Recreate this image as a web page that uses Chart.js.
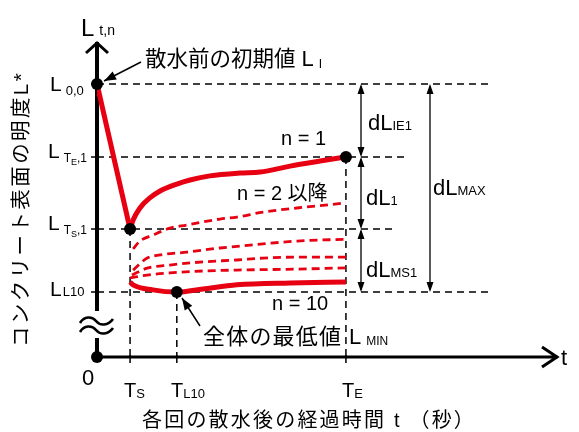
<!DOCTYPE html>
<html>
<head>
<meta charset="utf-8">
<script src="https://cdn.jsdelivr.net/npm/chart.js@4.4.1/dist/chart.umd.min.js"></script>
<style>
  html, body { margin: 0; padding: 0; background: #fff; }
  canvas { display: block; }
</style>
</head>
<body>
<canvas id="c" width="579" height="432"></canvas>
<script>
// schematic values, arbitrary units (t: time after each spraying, L: lightness)
const L00 = 86.7, LTE1 = 63.5, LTS1 = 40.6, LL10 = 20.6;
const TS = 8.7, TL10 = 21, TE = 65.5;

// n = 1 (solid)
const timeN1 = [0, 8.7, 9.5, 11.3, 13.9, 16.6, 21, 24.5, 29.7, 37.6, 42.9, 50.8, 58.7, 65.5];
const lightN1 = [86.7, 40.6, 43.5, 47.3, 50.5, 52.7, 54.9, 56.2, 57.5, 58.4, 58.7, 60.6, 62.2, 63.5];

// n = 10 (solid)
const timeN10 = [8.7, 9.5, 14.7, 21, 27.9, 36.8, 50.8, 65.5];
const lightN10 = [23.8, 22.9, 21.3, 20.6, 21.6, 22.9, 23.5, 23.8];

// n = 2 and later (dashed)
const timeA = [9.5, 11.3, 14.7, 19.2, 23.7, 27.9, 32.4, 36.8, 43.7, 52.6, 65.5];
const lightA = [34.3, 36.8, 38.7, 40.9, 41.9, 42.9, 43.8, 44.4, 46, 47.3, 48.9];
const timeB = [9.5, 13.2, 16.6, 23.7, 32.4, 43.7, 52.6, 65.5];
const lightB = [27.6, 31.4, 32.4, 33.3, 34.6, 35.9, 36.8, 37.4];
const timeC = [9.2, 13.2, 19.2, 27.9, 36.8, 43.7, 52.6, 65.5];
const lightC = [26.0, 28.2, 29.2, 30.2, 30.8, 31.4, 31.7, 31.7];
const timeD = [8.7, 13.2, 19.2, 27.9, 36.8, 52.6, 65.5];
const lightD = [25.1, 26.0, 26.7, 27.3, 27.6, 27.9, 28.3];

const RED = "#e60012";
const pts = (xs, ys) => xs.map((x, i) => ({ x, y: ys[i] }));
const font = (s) => `${s}px "Liberation Sans", "Noto Sans CJK JP", sans-serif`;

function rich(ctx, x, y, parts) {
  let cx = x;
  for (const [text, size, dy, gap] of parts) {
    cx += gap || 0;
    ctx.font = font(size);
    ctx.fillText(text, cx, y + (dy || 0));
    cx += ctx.measureText(text).width;
  }
}

function head(ctx, x1, y1, x2, y2, len, half) {
  const a = Math.atan2(y2 - y1, x2 - x1);
  ctx.beginPath();
  ctx.moveTo(x2, y2);
  ctx.lineTo(x2 - len * Math.cos(a) + half * Math.sin(a), y2 - len * Math.sin(a) - half * Math.cos(a));
  ctx.lineTo(x2 - len * Math.cos(a) - half * Math.sin(a), y2 - len * Math.sin(a) + half * Math.cos(a));
  ctx.closePath();
  ctx.fill();
}

function arrow(ctx, x1, y1, x2, y2) {
  ctx.beginPath();
  ctx.moveTo(x1, y1);
  ctx.lineTo(x2, y2);
  ctx.stroke();
  head(ctx, x1, y1, x2, y2, 12, 4.5);
}

function dblArrow(ctx, x, y1, y2) {
  ctx.beginPath();
  ctx.moveTo(x, y1 + 2);
  ctx.lineTo(x, y2 - 2);
  ctx.stroke();
  head(ctx, x, y2, x, y1, 10, 3.5);
  head(ctx, x, y1, x, y2, 10, 3.5);
}

const guides = {
  id: "guides",
  beforeDatasetsDraw(chart) {
    const { ctx, scales: { x, y } } = chart;
    const px = (v) => x.getPixelForValue(v), py = (v) => y.getPixelForValue(v);
    const x0 = px(0), y0 = py(0);
    ctx.save();
    ctx.strokeStyle = "#000";
    ctx.lineWidth = 1.5;
    ctx.setLineDash([7, 5]);
    const hl = (v, xEnd) => { ctx.beginPath(); ctx.moveTo(x0, py(v)); ctx.lineTo(xEnd, py(v)); ctx.stroke(); };
    hl(L00, 492); hl(LTE1, 405); hl(LTS1, 396); hl(LL10, 489);
    const vl = (t, v) => { ctx.beginPath(); ctx.moveTo(px(t), py(v)); ctx.lineTo(px(t), y0); ctx.stroke(); };
    vl(TS, LTS1); vl(TL10, LL10); vl(TE, LTE1);
    ctx.setLineDash([]);

    // axes
    ctx.lineCap = "butt";
    ctx.lineWidth = 4;
    ctx.beginPath();
    ctx.moveTo(x0, y0); ctx.lineTo(x0, 338);
    ctx.moveTo(x0, 311); ctx.lineTo(x0, y.top);
    ctx.stroke();
    ctx.lineWidth = 3;
    ctx.beginPath();
    ctx.moveTo(86, y.top + 11); ctx.lineTo(x0, y.top + 1); ctx.lineTo(108, y.top + 11);
    ctx.stroke();
    ctx.beginPath();
    ctx.moveTo(x0, y0); ctx.lineTo(x.right, y0);
    ctx.moveTo(x.right - 16, y0 - 10); ctx.lineTo(x.right - 1, y0); ctx.lineTo(x.right - 16, y0 + 10);
    ctx.stroke();

    // ticks
    ctx.lineWidth = 1.5;
    ctx.beginPath();
    [L00, LTE1, LTS1, LL10].forEach((v) => { ctx.moveTo(x0 - 6, py(v)); ctx.lineTo(x0 + 2, py(v)); });
    [TS, TL10, TE].forEach((t) => { ctx.moveTo(px(t), y0 - 2); ctx.lineTo(px(t), y0 + 6); });
    ctx.stroke();

    // axis break
    ctx.lineWidth = 2.6;
    [321, 330].forEach((w) => {
      ctx.beginPath();
      ctx.moveTo(80, w + 2);
      ctx.bezierCurveTo(84, w - 5, 92, w - 5, 96, w);
      ctx.bezierCurveTo(100, w + 5, 108, w + 5, 113, w - 2);
      ctx.stroke();
    });

    // dimension arrows
    ctx.fillStyle = "#000";
    ctx.lineWidth = 1.3;
    dblArrow(ctx, 361, py(L00), py(LTE1));
    dblArrow(ctx, 361, py(LTE1), py(LTS1));
    dblArrow(ctx, 361, py(LTS1), py(LL10));
    dblArrow(ctx, 430, py(L00), py(LL10));
    ctx.restore();
  },
  afterDatasetsDraw(chart) {
    const { ctx } = chart;
    ctx.save();
    ctx.fillStyle = "#000";
    ctx.strokeStyle = "#000";
    ctx.textBaseline = "alphabetic";
    ctx.textAlign = "left";

    // axis names
    rich(ctx, 81, 36, [["L", 24], ["t,n", 14, -1, 5]]);
    ctx.font = font(22);
    ctx.fillText("t", 561, 365);
    ctx.fillText("0", 82, 385);
    ctx.letterSpacing = "2.2px";
    ctx.font = font(20);
    ctx.fillText("各回の散水後の経過時間 t （秒）", 142, 427);
    ctx.save();
    ctx.translate(22, 209);
    ctx.rotate(-Math.PI / 2);
    ctx.textAlign = "center";
    ctx.textBaseline = "middle";
    ctx.letterSpacing = "2.4px";
    ctx.font = font(20.5);
    ctx.fillText("コンクリート表面の明度L*", 0, 0);
    ctx.restore();
    ctx.letterSpacing = "0px";

    // level labels
    rich(ctx, 50, 91, [["L", 21], ["0,0", 13, 4, 4]]);
    rich(ctx, 48, 158, [["L", 21], ["T", 12, 4, 4], ["E", 9, 7], [",1", 12, 4]]);
    rich(ctx, 48, 230, [["L", 21], ["T", 12, 4, 4], ["S", 9, 7], [",1", 12, 4]]);
    rich(ctx, 50, 296, [["L", 21], ["L10", 13, 0, 1]]);

    // time labels
    rich(ctx, 124, 397, [["T", 20], ["S", 13, 1]]);
    rich(ctx, 171, 397, [["T", 20], ["L10", 13, 1]]);
    rich(ctx, 342, 397, [["T", 20], ["E", 13, 1]]);

    // annotations
    rich(ctx, 145, 66, [["散水前の初期値", 21.5], ["L", 22, 0, 6], ["I", 12, 2, 5]]);
    ctx.letterSpacing = "1.2px";
    rich(ctx, 203, 344, [["全体の最低値", 22]]);
    ctx.letterSpacing = "0px";
    rich(ctx, 349, 344, [["L", 22], ["MIN", 12, 1, 5]]);
    ctx.font = font(20);
    ctx.fillText("n = 1", 281, 145);
    ctx.fillText("n = 2 以降", 237, 200);
    ctx.fillText("n = 10", 272, 310);
    rich(ctx, 368, 130, [["dL", 22], ["IE1", 13, 0]]);
    rich(ctx, 366, 205, [["dL", 22], ["1", 13, 0]]);
    rich(ctx, 366, 277, [["dL", 22], ["MS1", 13, 0]]);
    rich(ctx, 433, 195, [["dL", 22], ["MAX", 13, 0]]);

    ctx.lineWidth = 1.5;
    arrow(ctx, 141, 62, 104, 81);
    arrow(ctx, 200, 326, 182, 298);
    ctx.restore();
  }
};

const line = (data, dashed, width) => ({
  type: "line",
  data,
  borderColor: RED,
  borderWidth: width,
  borderDash: dashed ? [8, 5] : [],
  pointRadius: 0,
  fill: false,
  cubicInterpolationMode: "monotone",
});

new Chart(document.getElementById("c"), {
  type: "line",
  data: {
    datasets: [
      {
        type: "scatter",
        data: pts([0, TS, TE, TL10, 0], [L00, LTS1, LTE1, LL10, 0]),
        pointRadius: 6,
        pointBackgroundColor: "#000",
        pointBorderWidth: 0,
        showLine: false,
        clip: false,
      },
      line(pts(timeN1.slice(0, 2), lightN1.slice(0, 2)), false, 5),
      line(pts(timeN1.slice(1), lightN1.slice(1)), false, 5),
      line(pts(timeN10, lightN10), false, 5),
      line(pts(timeA, lightA), true, 2.8),
      line(pts(timeB, lightB), true, 2.8),
      line(pts(timeC, lightC), true, 2.8),
      line(pts(timeD, lightD), true, 2.8),
    ],
  },
  options: {
    responsive: false,
    animation: false,
    layout: { padding: { left: 97, right: 21, top: 42, bottom: 75 } },
    plugins: { legend: { display: false }, tooltip: { enabled: false } },
    scales: {
      x: { type: "linear", min: 0, max: 121.3, display: false },
      y: { type: "linear", min: 0, max: 100, display: false },
    },
  },
  plugins: [guides],
});
</script>
</body>
</html>
